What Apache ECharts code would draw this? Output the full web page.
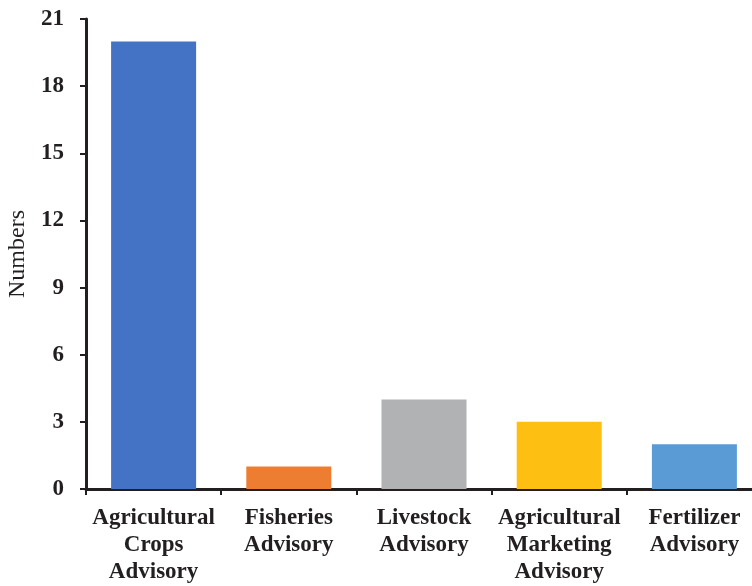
<!DOCTYPE html>
<html>
<head>
<meta charset="utf-8">
<script src="https://cdn.jsdelivr.net/npm/echarts@6/dist/echarts.min.js"></script>
<style>
  html, body { margin: 0; padding: 0; background: #fff; }
  #chart { width: 752px; height: 586px; }
</style>
</head>
<body>
<div id="chart"></div>
<script>
var categories = ['Agricultural\nCrops\nAdvisory', 'Fisheries\nAdvisory', 'Livestock\nAdvisory', 'Agricultural\nMarketing\nAdvisory', 'Fertilizer\nAdvisory'];
var values = [20, 1, 4, 3, 2];
var colors = ['#4472C4', '#ED7D31', '#B1B2B4', '#FDBF12', '#5B9BD5'];

var chart = echarts.init(document.getElementById('chart'));

var font = '"Liberation Serif", "Times New Roman", serif';

chart.setOption({
    animation: false,
    grid: { left: 86, top: 19, width: 676, bottom: 97, outerBoundsMode: 'none', containLabel: false },
    xAxis: {
        type: 'category',
        data: categories,
        axisLine: { lineStyle: { color: '#231f20', width: 3 } },
        axisTick: { show: true, alignWithLabel: false, length: 6, lineStyle: { color: '#231f20', width: 2 } },
        axisLabel: {
            interval: 0,
            margin: 16,
            color: '#231f20',
            fontFamily: font,
            fontWeight: 'bold',
            fontSize: 23,
            lineHeight: 27
        }
    },
    yAxis: {
        type: 'value',
        min: 0,
        max: 21,
        interval: 3,
        name: 'Numbers',
        nameLocation: 'middle',
        nameGap: 55,
        nameTextStyle: { color: '#231f20', fontFamily: font, fontSize: 24 },
        splitLine: { show: false },
        axisLine: { show: true, lineStyle: { color: '#231f20', width: 3 } },
        axisTick: { show: true, length: 6, lineStyle: { color: '#231f20', width: 2 } },
        axisLabel: {
            margin: 22,
            color: '#231f20',
            fontFamily: font,
            fontWeight: 'bold',
            fontSize: 23
        }
    },
    series: [{
        type: 'bar',
        barWidth: 85,
        data: values.map(function (v, i) {
            return { value: v, itemStyle: { color: colors[i] } };
        })
    }]
});
</script>
</body>
</html>
